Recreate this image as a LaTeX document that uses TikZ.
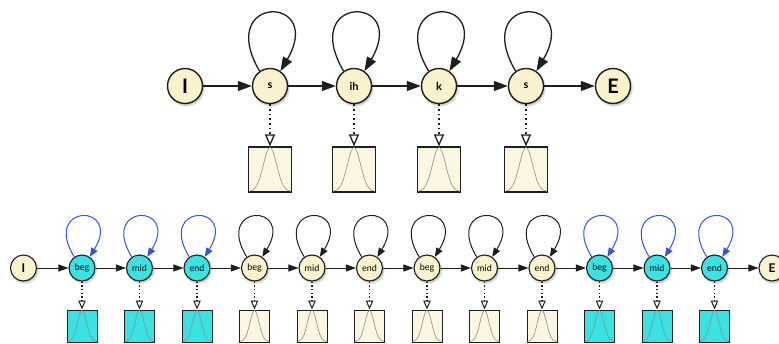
\documentclass[tikz,border=0pt]{standalone}
\usepackage{fontspec}
\setmainfont{Lato}
\usetikzlibrary{arrows.meta,shadows.blur}
\definecolor{cream}{RGB}{250,242,204}
\definecolor{boxcream}{RGB}{251,246,226}
\definecolor{aqua}{RGB}{58,226,226}
\definecolor{loopblue}{RGB}{52,84,222}
\definecolor{edge}{RGB}{30,30,30}
\begin{document}
\begin{tikzpicture}[x=1pt,y=-1pt,
  shade/.style={blur shadow={shadow xshift=1.2pt,shadow yshift=-1.8pt,shadow blur steps=6,shadow opacity=30}},
  % upper chain
  bigstate/.style={circle,draw=edge,line width=1.4pt,fill=cream,minimum size=35pt,inner sep=0pt,shade,
    font=\bfseries\fontsize{11}{11}\selectfont},
  bigend/.style={bigstate,font=\bfseries\fontsize{20}{20}\selectfont},
  bigbox/.style={rectangle,draw=edge,line width=1.2pt,fill=boxcream,minimum width=43pt,minimum height=45pt,inner sep=0pt},
  bigarrow/.style={draw=edge,line width=1.3pt,-{Triangle[length=14pt,width=10pt]}},
  bigdots/.style={draw=edge,line width=1.7pt,dash pattern=on 1.7pt off 3pt,
    -{Triangle[open,length=12pt,width=10pt,line width=1.3pt,fill=white,sep=0pt]}},
  % lower chain
  smally/.style={circle,draw=edge,line width=1.1pt,fill=cream,minimum size=26pt,inner sep=0pt,shade,
    font=\fontsize{9}{9}\selectfont},
  smallc/.style={smally,fill=aqua},
  smallend/.style={smally,font=\bfseries\fontsize{12}{12}\selectfont},
  sboxy/.style={rectangle,draw=edge,line width=1pt,fill=boxcream,minimum width=30pt,minimum height=32pt,inner sep=0pt},
  sboxc/.style={sboxy,fill=aqua},
  smallarrow/.style={draw=edge,line width=1pt,-{Triangle[length=10pt,width=7pt]}},
  loopy/.style={draw=edge,line width=1pt,-{Triangle[length=9pt,width=7pt]}},
  loopc/.style={draw=loopblue,line width=1pt,-{Triangle[length=9pt,width=7pt]}},
  smalldots/.style={draw=edge,line width=1.3pt,dash pattern=on 1.3pt off 2.4pt,
    -{Triangle[open,length=9pt,width=7.5pt,line width=1pt,fill=white,sep=0pt]}},
  gauss/.style={draw=black!45,line width=0.6pt}
]
\useasboundingbox (0,0) rectangle (779,343);

% ---------- upper chain: I -> s -> ih -> k -> s -> E ----------
\node[bigend] (tI) at (185,86) {I};
\node[bigend] (tE) at (613,86) {E};
\foreach \n/\p/\t in {t1/270/s, t2/354/ih, t3/439/k, t4/526/s} {
  \node[bigstate] (\n) at (\p,86) {\t};
  \node[bigbox] (\n b) at (\p,169.5) {};
  \draw[gauss] plot[variable=\u,domain=-1:1,samples=51,smooth]
    ({\p + 21*\u}, {191.5 - 44*exp(-\u*\u/0.2)});
  \draw[bigdots] (\n) -- (\n b);
  \draw[bigarrow] (\n.125) .. controls +(-45,-77) and +(45,-77) .. (\n.55);
}
\draw[bigarrow] (tI) -- (t1);
\draw[bigarrow] (t1) -- (t2);
\draw[bigarrow] (t2) -- (t3);
\draw[bigarrow] (t3) -- (t4);
\draw[bigarrow] (t4) -- (tE);

% ---------- lower chain: three sub-states per phone ----------
\node[smallend] (bI) at (23.5,268) {I};
\node[smallend] (bE) at (772,268) {E};
\foreach \n/\p/\t/\k in {b1/82/beg/c, b2/139.5/mid/c, b3/197/end/c,
                         b4/254.5/beg/y, b5/312/mid/y, b6/369.5/end/y,
                         b7/427/beg/y, b8/484.5/mid/y, b9/542/end/y,
                         b10/599.5/beg/c, b11/657/mid/c, b12/714.5/end/c} {
  \node[small\k] (\n) at (\p,268) {\t};
  \node[sbox\k] (\n b) at (\p,326) {};
  \draw[gauss] plot[variable=\u,domain=-1:1,samples=41,smooth]
    ({\p + 14.5*\u}, {341.5 - 31*exp(-\u*\u/0.2)});
  \draw[smalldots] (\n) -- (\n b);
  \draw[loop\k] (\n.125) .. controls +(-33,-54) and +(33,-54) .. (\n.55);
}
\draw[smallarrow] (bI) -- (b1);
\draw[smallarrow] (b1) -- (b2);
\draw[smallarrow] (b2) -- (b3);
\draw[smallarrow] (b3) -- (b4);
\draw[smallarrow] (b4) -- (b5);
\draw[smallarrow] (b5) -- (b6);
\draw[smallarrow] (b6) -- (b7);
\draw[smallarrow] (b7) -- (b8);
\draw[smallarrow] (b8) -- (b9);
\draw[smallarrow] (b9) -- (b10);
\draw[smallarrow] (b10) -- (b11);
\draw[smallarrow] (b11) -- (b12);
\draw[smallarrow] (b12) -- (bE);
\end{tikzpicture}
\end{document}
